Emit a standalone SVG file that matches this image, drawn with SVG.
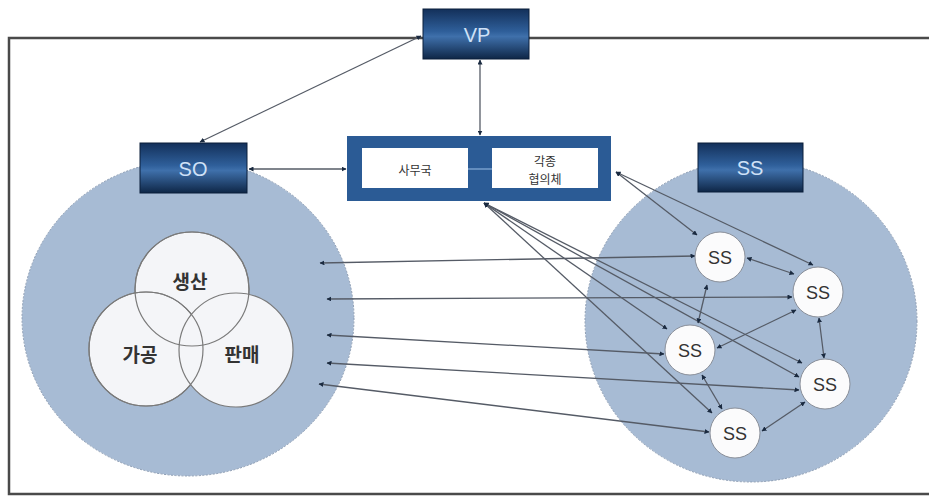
<svg xmlns="http://www.w3.org/2000/svg" width="929" height="496" viewBox="0 0 929 496">
<defs>
<linearGradient id="navy" x1="0" y1="0" x2="0" y2="1">
<stop offset="0" stop-color="#13305a"/>
<stop offset="0.45" stop-color="#2f5f9a"/>
<stop offset="0.55" stop-color="#3f70ab"/>
<stop offset="1" stop-color="#0e2646"/>
</linearGradient>
<marker id="ah" viewBox="0 0 10 10" refX="9" refY="5" markerWidth="5" markerHeight="5" orient="auto-start-reverse" markerUnits="userSpaceOnUse">
<path d="M0,0 L10,5 L0,10 z" fill="#1a2a40"/>
</marker>
<style>
.frame{fill:none;stroke:#4a4a4a;stroke-width:2.5}
.big{fill:#a7bbd4;stroke:#8d9db3;stroke-width:1;stroke-dasharray:2 1.5}
.hdr{fill:url(#navy);stroke:#0b1f3a;stroke-width:1}
.hdrt{font-family:"Liberation Sans",Arial,sans-serif;font-size:20px;fill:#cfe1f7;text-anchor:middle;dominant-baseline:central}
.venn{fill:#f4f5f8;stroke:#7a7a7a;stroke-width:1.2}
.vennline{fill:none;stroke:#7a7a7a;stroke-width:1.2}
.kt{font-family:"Noto Sans CJK KR",sans-serif;font-weight:bold;font-size:19px;fill:#333;text-anchor:middle;dominant-baseline:central}
.ks{font-family:"Noto Sans CJK KR",sans-serif;font-size:12px;fill:#333;text-anchor:middle;dominant-baseline:central}
.ss{fill:#fbfbfc;stroke:#8a8f99;stroke-width:1}
.sst{font-family:"Liberation Sans",Arial,sans-serif;font-size:18px;fill:#333;text-anchor:middle;dominant-baseline:central}
.c{fill:none;stroke:#555b66;stroke-width:1.3;marker-start:url(#ah);marker-end:url(#ah)}
</style>
</defs>
<rect width="929" height="496" fill="#ffffff"/>
<path class="frame" d="M929,38 H9 V494 H929"/>

<g id="so-circle"><ellipse class="big" cx="188" cy="318" rx="166" ry="158"/></g>
<g id="ss-circle"><ellipse class="big" cx="751" cy="321" rx="166" ry="161"/></g>

<g id="venn">
<circle class="venn" cx="192" cy="289" r="57"/>
<circle class="venn" cx="146" cy="349" r="57"/>
<circle class="venn" cx="236" cy="350" r="57"/>
<circle class="vennline" cx="192" cy="289" r="57"/>
<circle class="vennline" cx="146" cy="349" r="57"/>
<text class="kt" x="190" y="280">생산</text>
<text class="kt" x="140" y="353">가공</text>
<text class="kt" x="242" y="353">판매</text>
</g>

<g id="connectors">
<line class="c" x1="421" y1="36" x2="200" y2="142"/>
<line class="c" x1="480" y1="60" x2="480" y2="135"/>
<line class="c" x1="249" y1="169" x2="346" y2="169"/>
<line class="c" x1="616" y1="172" x2="697" y2="235"/>
<line class="c" x1="616" y1="172" x2="813" y2="265"/>
<line class="c" x1="484" y1="203" x2="667" y2="329"/>
<line class="c" x1="484" y1="203" x2="712" y2="413"/>
<line class="c" x1="484" y1="203" x2="802" y2="363"/>
<line class="c" x1="484" y1="203" x2="799" y2="377"/>
<line class="c" x1="320" y1="263" x2="695" y2="256"/>
<line class="c" x1="327" y1="299" x2="792" y2="297"/>
<line class="c" x1="327" y1="335" x2="664" y2="354"/>
<line class="c" x1="327" y1="363" x2="799" y2="390"/>
<line class="c" x1="319" y1="384" x2="709" y2="432"/>
<line class="c" x1="747" y1="258" x2="794" y2="274"/>
<line class="c" x1="707" y1="285" x2="698" y2="323"/>
<line class="c" x1="796" y1="310" x2="717" y2="348"/>
<line class="c" x1="819" y1="318" x2="824" y2="358"/>
<line class="c" x1="702" y1="375" x2="722" y2="409"/>
<line class="c" x1="805" y1="402" x2="762" y2="431"/>
</g>

<g id="vp"><rect class="hdr" x="423" y="9" width="106" height="50"/><text class="hdrt" x="477" y="35">VP</text></g>
<g id="so"><rect class="hdr" x="140" y="143" width="107" height="50"/><text class="hdrt" x="193" y="169">SO</text></g>
<g id="ss-hdr"><rect class="hdr" x="698" y="143" width="105" height="49"/><text class="hdrt" x="750" y="168">SS</text></g>

<g id="secretariat">
<rect x="347" y="136" width="264" height="65" fill="#2b5b95"/>
<rect x="362" y="148" width="106" height="40" fill="#ffffff"/>
<rect x="492" y="148" width="106" height="40" fill="#ffffff"/>
<line x1="468" y1="169" x2="492" y2="169" stroke="#9cc0e6" stroke-width="1"/>
<text class="ks" x="415" y="169">사무국</text>
<text class="ks" x="545" y="160">각종</text>
<text class="ks" x="545" y="178">협의체</text>
</g>

<g id="ss1"><circle class="ss" cx="720" cy="257" r="25"/><text class="sst" x="720" y="258">SS</text></g>
<g id="ss2"><circle class="ss" cx="818" cy="292" r="25"/><text class="sst" x="818" y="293">SS</text></g>
<g id="ss3"><circle class="ss" cx="690" cy="350" r="25"/><text class="sst" x="690" y="351">SS</text></g>
<g id="ss4"><circle class="ss" cx="825" cy="384" r="25"/><text class="sst" x="825" y="385">SS</text></g>
<g id="ss5"><circle class="ss" cx="735" cy="433" r="25"/><text class="sst" x="735" y="434">SS</text></g>
</svg>
